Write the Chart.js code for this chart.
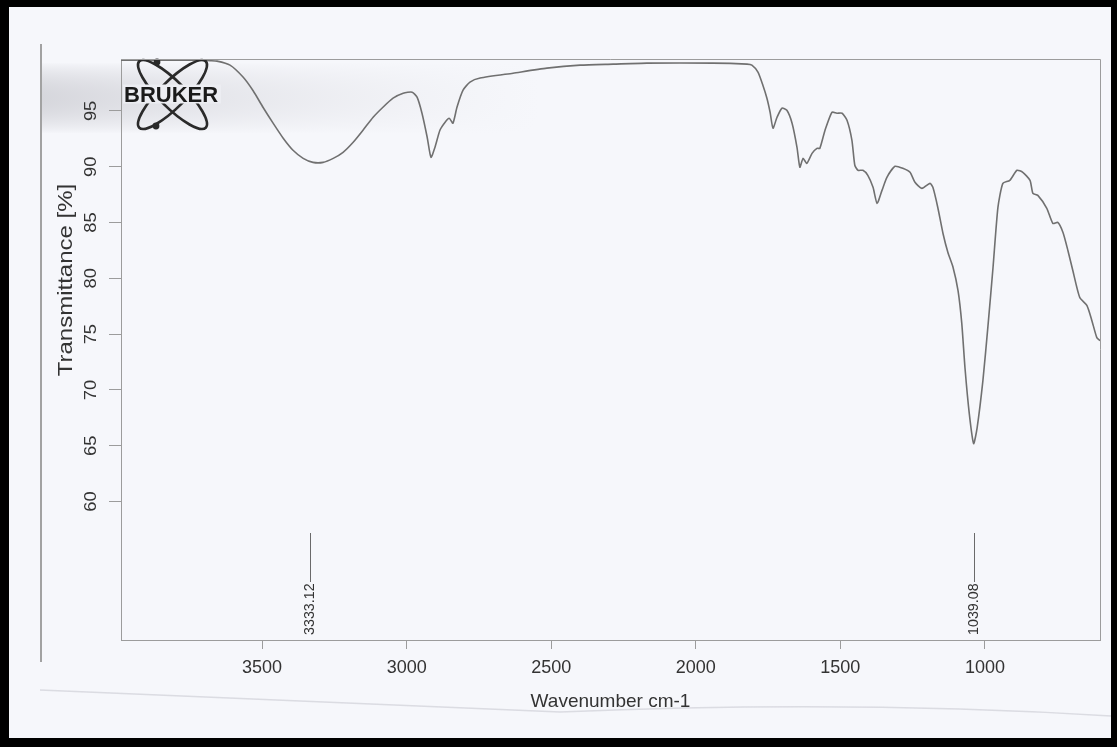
<!DOCTYPE html>
<html>
<head>
<meta charset="utf-8">
<script src="https://cdn.jsdelivr.net/npm/chart.js@4.4.1/dist/chart.umd.min.js"></script>
<style>
  html, body { margin: 0; padding: 0; background: #000; }
  #wrap { width: 1117px; height: 747px; }
</style>
</head>
<body>
<div id="wrap"><canvas id="c" width="1117" height="747"></canvas></div>
<script>
// ---- data ----
const wavenumbers = [3988, 3714, 3680, 3656, 3611, 3566, 3531, 3497, 3462, 3427,
  3393, 3358, 3324, 3289, 3254, 3220, 3185, 3151, 3116, 3082,
  3047, 3012, 2981, 2964, 2947, 2929, 2916, 2902, 2885, 2867,
  2853, 2840, 2826, 2805, 2781, 2746, 2632, 2515, 2400, 2286,
  2169, 1941, 1823, 1806, 1785, 1768, 1754, 1743, 1733, 1719,
  1702, 1685, 1667, 1650, 1640, 1629, 1616, 1598, 1581, 1571,
  1553, 1529, 1512, 1494, 1477, 1460, 1450, 1439, 1422, 1405,
  1387, 1373, 1356, 1339, 1311, 1284, 1259, 1242, 1218, 1190,
  1180, 1163, 1145, 1128, 1111, 1093, 1080, 1069, 1054, 1039,
  1027, 1007, 990, 972, 955, 938, 914, 889, 869, 844,
  834, 817, 786, 765, 748, 730, 713, 696, 672, 647,
  630, 613, 602];
const transmittance = [99.55, 99.55, 99.5, 99.46, 99.10, 98.03, 96.8, 95.33, 93.9, 92.55,
  91.47, 90.75, 90.39, 90.39, 90.75, 91.29, 92.19, 93.27, 94.43, 95.33,
  96.14, 96.59, 96.68, 96.23, 94.79, 92.64, 90.84, 91.74, 93.27, 93.99,
  94.34, 93.9, 95.33, 96.86, 97.58, 97.94, 98.38, 98.83, 99.1, 99.19,
  99.28, 99.28, 99.19, 99.1, 98.47, 97.3, 96.14, 94.88, 93.45, 94.43,
  95.24, 95.06, 93.9, 91.74, 89.95, 90.75, 90.3, 91.2, 91.65, 91.65,
  93.27, 94.88, 94.79, 94.79, 94.17, 92.37, 90.13, 89.68, 89.68, 89.23,
  88.15, 86.71, 87.88, 89.05, 90.04, 89.86, 89.5, 88.6, 88.06, 88.51,
  88.15, 86.35, 84.02, 82.32, 81.06, 78.9, 75.94, 71.99, 67.86, 65.2,
  66.61, 70.83, 75.58, 80.97, 86.35, 88.51, 88.78, 89.68, 89.5, 88.78,
  87.61, 87.43, 86.27, 84.92, 85.01, 84.11, 82.5, 80.7, 78.28, 77.56,
  76.21, 74.69, 74.42];
const xTicks = [3500, 3000, 2500, 2000, 1500, 1000];
const yTicks = [95, 90, 85, 80, 75, 70, 65, 60];
const peakWavenumbers = [3333.12, 1039.08];
const peakLabels = ['3333.12', '1039.08'];
const xTitle = 'Wavenumber cm-1';
const yTitle = 'Transmittance [%]';
const logoText = 'BRUKER';

const FONT = '"Liberation Sans", Arial, sans-serif';
const TEXT = '#333333';
const PAPER = '#f6f7fb';
const AXIS = '#9c9c9c';

function stretchedText(ctx, txt, x, y, rot, font, stretch, align, baseline) {
  ctx.save();
  ctx.translate(x, y);
  ctx.rotate(rot);
  ctx.scale(stretch, 1);
  ctx.font = font;
  ctx.textAlign = align;
  ctx.textBaseline = baseline;
  ctx.fillText(txt, 0, 0);
  ctx.restore();
}

const decor = {
  id: 'decor',
  beforeDraw(chart) {
    const ctx = chart.ctx;
    ctx.save();
    ctx.fillStyle = '#000';
    ctx.fillRect(0, 0, 1117, 747);
    ctx.fillStyle = PAPER;
    ctx.fillRect(9, 7, 1102, 731);
    // scan shading band at upper left (soft top/bottom edges, fading to the right)
    const g = ctx.createLinearGradient(40, 0, 540, 0);
    g.addColorStop(0, 'rgba(170,170,178,1)');
    g.addColorStop(0.2, 'rgba(180,180,188,0.8)');
    g.addColorStop(0.6, 'rgba(195,195,202,0.4)');
    g.addColorStop(1, 'rgba(210,210,216,0)');
    ctx.fillStyle = g;
    const top = 62, h = 72;
    for (let i = 0; i < h; i++) {
      const t = i / (h - 1);
      ctx.globalAlpha = 0.42 * Math.pow(Math.sin(Math.PI * t), 0.8);
      ctx.fillRect(42, top + i, 500, 1);
    }
    ctx.globalAlpha = 1;
    // paper edge line on the left
    ctx.strokeStyle = '#a2a2a2';
    ctx.lineWidth = 2;
    ctx.beginPath();
    ctx.moveTo(41, 44);
    ctx.lineTo(41, 662);
    ctx.stroke();
    // faint fold line near bottom
    ctx.strokeStyle = 'rgba(170,170,180,0.35)';
    ctx.lineWidth = 1.5;
    ctx.beginPath();
    ctx.moveTo(40, 690);
    ctx.quadraticCurveTo(300, 700, 560, 712);
    ctx.quadraticCurveTo(850, 700, 1111, 716);
    ctx.stroke();
    ctx.restore();
  },
  afterDatasetsDraw(chart) {
    const ctx = chart.ctx;
    const a = chart.chartArea;
    const cx = a.left + 51.5, cy = a.top + 35.5;
    ctx.save();
    ctx.strokeStyle = '#2a2a2a';
    ctx.lineWidth = 2.6;
    [Math.PI / 4, -Math.PI / 4].forEach(ang => {
      ctx.beginPath();
      ctx.ellipse(cx, cy, 47, 13, ang, 0, Math.PI * 2);
      ctx.stroke();
    });
    ctx.fillStyle = '#2a2a2a';
    [[-15.5, -32.5], [-16.5, 31.5]].forEach(([dx, dy]) => {
      ctx.beginPath();
      ctx.arc(cx + dx, cy + dy, 3.4, 0, Math.PI * 2);
      ctx.fill();
    });
    ctx.fillStyle = 'rgba(236,237,242,1)';
    ctx.fillRect(a.left + 2, cy - 10, 98, 19);
    ctx.fillStyle = '#1a1a1a';
    ctx.font = 'bold 22px ' + FONT;
    ctx.textAlign = 'left';
    ctx.textBaseline = 'middle';
    ctx.fillText(logoText, a.left + 3, cy + 1);
    ctx.restore();
  },
  afterDraw(chart) {
    const ctx = chart.ctx;
    const a = chart.chartArea;
    const xs = chart.scales.x, ys = chart.scales.y;
    ctx.save();
    // top and right frame lines
    ctx.strokeStyle = AXIS;
    ctx.lineWidth = 1;
    ctx.beginPath();
    ctx.moveTo(a.left, a.top + 0.5);
    ctx.lineTo(a.right + 0.5, a.top + 0.5);
    ctx.lineTo(a.right + 0.5, a.bottom);
    ctx.stroke();
    ctx.fillStyle = TEXT;
    // rotated y tick labels
    yTicks.forEach(v => {
      stretchedText(ctx, String(v), 91, ys.getPixelForValue(v), -Math.PI / 2,
        '17px ' + FONT, 1.08, 'center', 'middle');
    });
    // y axis title
    stretchedText(ctx, yTitle, 66, 280, -Math.PI / 2, '20px ' + FONT, 1.2, 'center', 'middle');
    // peak annotations
    peakWavenumbers.forEach((w, i) => {
      const px = Math.round(xs.getPixelForValue(w)) + 0.5;
      ctx.strokeStyle = '#6a6a6a';
      ctx.lineWidth = 1;
      ctx.beginPath();
      ctx.moveTo(px, a.bottom - 107);
      ctx.lineTo(px, a.bottom - 58);
      ctx.stroke();
      ctx.fillStyle = TEXT;
      stretchedText(ctx, peakLabels[i], px, a.bottom - 5, -Math.PI / 2,
        '14px ' + FONT, 1.02, 'left', 'middle');
    });
    ctx.restore();
  }
};

new Chart(document.getElementById('c'), {
  type: 'line',
  data: {
    datasets: [{
      data: wavenumbers.map((w, i) => ({ x: w, y: transmittance[i] })),
      borderColor: '#707070',
      borderWidth: 1.6,
      pointRadius: 0,
      tension: 0.2,
      fill: false
    }]
  },
  options: {
    responsive: false,
    animation: false,
    devicePixelRatio: 1,
    layout: { padding: { left: 0, top: 59, right: 17, bottom: 0 } },
    plugins: { legend: { display: false }, tooltip: { enabled: false } },
    scales: {
      x: {
        type: 'linear',
        reverse: true,
        min: 602,
        max: 3988,
        afterBuildTicks: s => { s.ticks = xTicks.map(v => ({ value: v })); },
        afterFit: s => { s.height = 107; },
        grid: { drawOnChartArea: false, drawTicks: true, tickLength: 9, color: AXIS, lineWidth: 1 },
        border: { display: true, color: AXIS, width: 1 },
        ticks: {
          font: { family: FONT, size: 18 },
          color: TEXT,
          padding: 8,
          maxRotation: 0,
          minRotation: 0,
          autoSkip: false,
          callback: v => String(v)
        },
        title: {
          display: true,
          text: xTitle,
          font: { family: FONT, size: 19 },
          color: TEXT,
          padding: { top: 0, bottom: 34 }
        }
      },
      y: {
        type: 'linear',
        min: 47.6,
        max: 99.65,
        afterBuildTicks: s => { s.ticks = yTicks.map(v => ({ value: v })); },
        afterFit: s => { s.width = 121; },
        grid: { drawOnChartArea: false, drawTicks: true, tickLength: 12, color: AXIS, lineWidth: 1 },
        border: { display: true, color: AXIS, width: 1 },
        ticks: { color: 'rgba(0,0,0,0)', font: { family: FONT, size: 17 }, padding: 4, callback: v => String(v) }
      }
    }
  },
  plugins: [decor]
});
</script>
</body>
</html>
